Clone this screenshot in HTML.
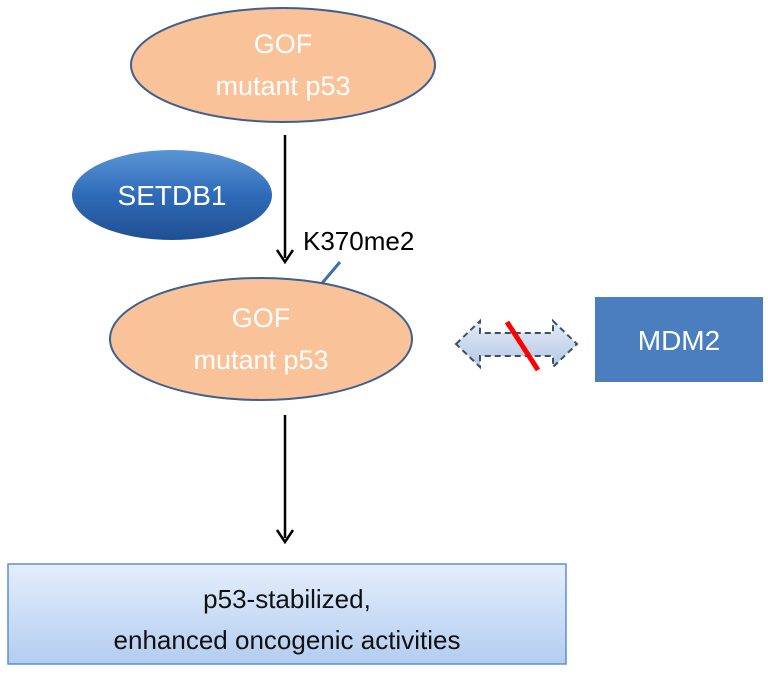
<!DOCTYPE html>
<html><head><meta charset="utf-8"><style>
html,body{margin:0;padding:0;background:#fff;}
svg{display:block;}
text{font-family:"Liberation Sans",Arial,sans-serif;}
</style></head><body>
<svg width="768" height="680" viewBox="0 0 768 680" xmlns="http://www.w3.org/2000/svg">
<defs>
<linearGradient id="bg" x1="0" y1="0" x2="0" y2="1"><stop offset="0" stop-color="#e4eefb"/><stop offset="1" stop-color="#b3cdf0"/></linearGradient>
<linearGradient id="sg" x1="0" y1="0" x2="0" y2="1"><stop offset="0" stop-color="#5b95d6"/><stop offset="0.5" stop-color="#2f6bb8"/><stop offset="1" stop-color="#1f4f92"/></linearGradient>
<linearGradient id="ag" x1="0" y1="0" x2="0" y2="1"><stop offset="0" stop-color="#e3ebf6"/><stop offset="1" stop-color="#b5c8e3"/></linearGradient>
</defs>
<ellipse cx="283" cy="65" rx="152" ry="57" fill="#f9c298" stroke="#3f5f8e" stroke-width="2"/>
<text x="283" y="53" font-size="27" fill="#fff" text-anchor="middle">GOF</text>
<text x="283" y="95" font-size="27" fill="#fff" text-anchor="middle">mutant p53</text>
<ellipse cx="172" cy="195" rx="100" ry="45" fill="url(#sg)"/>
<text x="172" y="205" font-size="28" fill="#fff" text-anchor="middle">SETDB1</text>
<line x1="285" y1="135" x2="285" y2="258" stroke="#000" stroke-width="2.5"/>
<path d="M277 250 L285 262 L293 250" fill="none" stroke="#000" stroke-width="2.5"/>
<text x="303" y="250" font-size="26" fill="#000">K370me2</text>
<line x1="340" y1="262" x2="318" y2="288" stroke="#3f6fb0" stroke-width="3"/>
<ellipse cx="261" cy="339" rx="151" ry="61" fill="#f9c298" stroke="#3f5f8e" stroke-width="2"/>
<text x="261" y="327" font-size="27" fill="#fff" text-anchor="middle">GOF</text>
<text x="261" y="369" font-size="27" fill="#fff" text-anchor="middle">mutant p53</text>
<path d="M456 344 L480 321 L480 333 L553 333 L553 321 L577 344 L553 367 L553 356 L480 356 L480 367 Z" fill="url(#ag)" stroke="#3a4f6e" stroke-width="2" stroke-dasharray="6,4"/>
<line x1="507" y1="322" x2="538" y2="370" stroke="#f00" stroke-width="5"/>
<rect x="595" y="297" width="168" height="85" fill="#4a7ebf"/>
<text x="679" y="350" font-size="28" fill="#fff" text-anchor="middle">MDM2</text>
<line x1="285" y1="415" x2="285" y2="538" stroke="#000" stroke-width="2.5"/>
<path d="M277 530 L285 542 L293 530" fill="none" stroke="#000" stroke-width="2.5"/>
<rect x="8" y="564" width="558" height="100" fill="url(#bg)" stroke="#5b8fd0" stroke-width="1.5"/>
<text x="287" y="608" font-size="26" fill="#111" text-anchor="middle">p53-stabilized,</text>
<text x="287" y="649" font-size="26" fill="#111" text-anchor="middle">enhanced oncogenic activities</text>
</svg>
</body></html>
